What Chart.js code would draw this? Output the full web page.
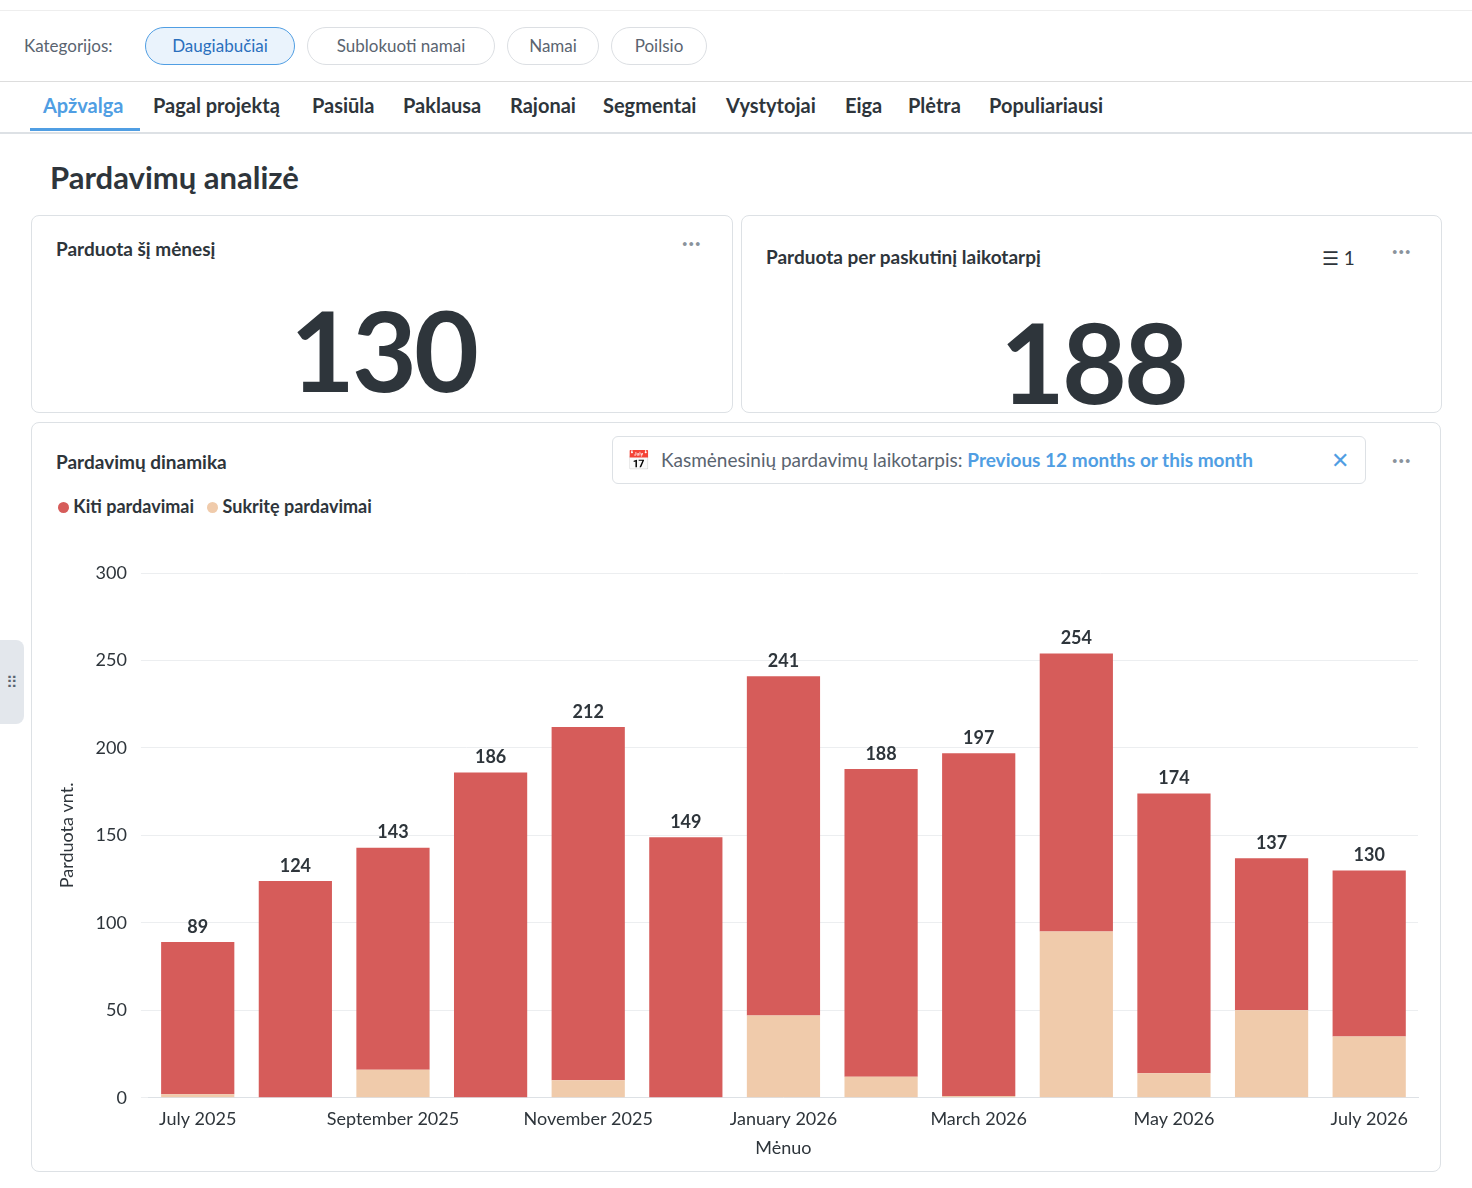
<!DOCTYPE html>
<html><head><meta charset="utf-8">
<script src="https://cdn.jsdelivr.net/npm/chart.js@4"></script>
<style>
body{margin:0;width:1472px;height:1188px;background:#fff;font-family:Lato,sans-serif;color:#2e353b;position:relative;overflow:hidden}
.top{position:absolute;left:0;top:10px;width:1472px;height:70px;border-top:1px solid #eee;border-bottom:1px solid #ddd}
.lbl{position:absolute;left:24px;top:24px;font-size:17px;color:#5a6470}
.pill{position:absolute;top:16px;height:36px;border:1px solid #dcdfe3;border-radius:19px;font-size:17px;color:#5a6470;line-height:36px;text-align:center}
.pill.on{border-color:#509ee3;background:#eaf3fc;color:#2a6fbd}
.tabs{position:absolute;top:82px;left:0;width:1472px;height:50px;border-bottom:2px solid #dde1e5}
.tab{position:absolute;top:11px;font-size:20px;font-weight:700;color:#2e353b}
.card{position:absolute;border:1px solid #dde1e5;border-radius:8px;background:#fff}
.ct{position:absolute;font-size:19px;font-weight:700;color:#2e353b}
.big{position:absolute;font-size:112px;font-weight:700;color:#2e353b;letter-spacing:-3px}
.dots{position:absolute;color:#8a939c;font-size:20px;font-weight:700;letter-spacing:1px}
</style></head><body>
<div class="top">
<div class="lbl">Kategorijos:</div>
<div class="pill on" style="left:145px;width:148px">Daugiabučiai</div>
<div class="pill" style="left:307px;width:186px">Sublokuoti namai</div>
<div class="pill" style="left:507px;width:90px">Namai</div>
<div class="pill" style="left:611px;width:94px">Poilsio</div>
</div>
<div class="tabs">
<div class="tab" style="left:43px;color:#509ee3">Apžvalga</div>
<div style="position:absolute;left:30px;top:46px;width:110px;height:3px;background:#509ee3"></div>
<div class="tab" style="left:153px">Pagal projektą</div>
<div class="tab" style="left:312px">Pasiūla</div>
<div class="tab" style="left:403px">Paklausa</div>
<div class="tab" style="left:510px">Rajonai</div>
<div class="tab" style="left:603px">Segmentai</div>
<div class="tab" style="left:726px">Vystytojai</div>
<div class="tab" style="left:845px">Eiga</div>
<div class="tab" style="left:908px">Plėtra</div>
<div class="tab" style="left:989px">Populiariausi</div>
</div>
<div style="position:absolute;left:50px;top:158px;font-size:31px;font-weight:700">Pardavimų analizė</div>
<div class="card" style="left:31px;top:215px;width:700px;height:196px">
<div class="ct" style="left:24px;top:21px">Parduota šį mėnesį</div>
<div class="dots" style="left:650px;top:14px">···</div>
<div class="big" style="left:258px;top:65px">130</div>
</div>
<div class="card" style="left:741px;top:215px;width:699px;height:196px">
<div class="ct" style="left:24px;top:29px">Parduota per paskutinį laikotarpį</div>
<div style="position:absolute;left:580px;top:30px;font-size:19px;color:#2e353b">☰ 1</div>
<div class="dots" style="left:650px;top:22px">···</div>
<div class="big" style="left:258px;top:77px">188</div>
</div>
<div class="card" style="left:31px;top:422px;width:1408px;height:748px">
<div class="ct" style="left:24px;top:27px">Pardavimų dinamika</div>
<div style="position:absolute;left:580px;top:13px;width:752px;height:46px;border:1px solid #dde1e5;border-radius:6px;font-size:19px;line-height:46px;color:#5a6470">
<span style="position:absolute;left:14px">📅</span>
<span style="position:absolute;left:48px">Kasmėnesinių pardavimų laikotarpis: <b style="color:#509ee3">Previous 12 months or this month</b></span>
<span style="position:absolute;left:718px;color:#509ee3;font-size:22px">✕</span></div>
<div class="dots" style="left:1360px;top:24px">···</div>
<div style="position:absolute;left:26px;top:72px;font-size:18px;font-weight:700">
<span style="display:inline-block;width:11px;height:11px;border-radius:50%;background:#d65c5a"></span> Kiti pardavimai
&nbsp;&nbsp;<span style="display:inline-block;width:11px;height:11px;border-radius:50%;background:#f0cbab"></span> Sukritę pardavimai</div>
<div style="position:absolute;left:20px;top:120px;width:1380px;height:620px"><canvas id="c"></canvas></div>
</div>
<div style="position:absolute;left:0;top:640px;width:24px;height:84px;background:#e3e7ec;border-radius:0 8px 8px 0;color:#5a6470;font-size:16px;line-height:84px;text-align:center">⠿</div>
<script>
const months=["July 2025","August 2025","September 2025","October 2025","November 2025","December 2025","January 2026","February 2026","March 2026","April 2026","May 2026","June 2026","July 2026"];
const totals=[89,124,143,186,212,149,241,188,197,254,174,137,130];
const sukrite=[2,0,16,0,10,0,47,12,1,95,14,50,35];
const kiti=totals.map((t,i)=>t-sukrite[i]);
const labelPlugin={id:'tot',afterDatasetsDraw(ch){const ctx=ch.ctx;const m=ch.getDatasetMeta(1);ctx.save();ctx.font='bold 18px Lato';ctx.fillStyle='#2e353b';ctx.textAlign='center';ctx.textBaseline='bottom';
m.data.forEach((b,i)=>ctx.fillText(totals[i],b.x,b.y-6));ctx.restore();}};
new Chart(document.getElementById('c'),{type:'bar',
data:{labels:months,datasets:[
{label:'Sukritę pardavimai',data:sukrite,backgroundColor:'#f0cbab',barPercentage:0.75,categoryPercentage:1},
{label:'Kiti pardavimai',data:kiti,backgroundColor:'#d65c5a',barPercentage:0.75,categoryPercentage:1}]},
options:{responsive:true,maintainAspectRatio:false,animation:false,layout:{padding:{top:30,right:14}},
plugins:{legend:{display:false},tooltip:{enabled:false}},
scales:{x:{stacked:true,grid:{display:false},border:{color:'#dde1e5'},ticks:{autoSkip:false,maxRotation:0,color:'#2e353b',font:{family:'Lato',size:18},callback:(v,i)=>i%2==0?months[i]:''},
title:{display:true,text:'Mėnuo',color:'#2e353b',font:{family:'Lato',size:18}}},
y:{stacked:true,min:0,max:300,ticks:{stepSize:50,color:'#2e353b',padding:14,font:{family:'Lato',size:18}},grid:{color:'#eceef0'},border:{display:false},
title:{display:true,text:'Parduota vnt.',color:'#2e353b',font:{family:'Lato',size:18}}}}},
plugins:[labelPlugin]});
</script>
</body></html>
